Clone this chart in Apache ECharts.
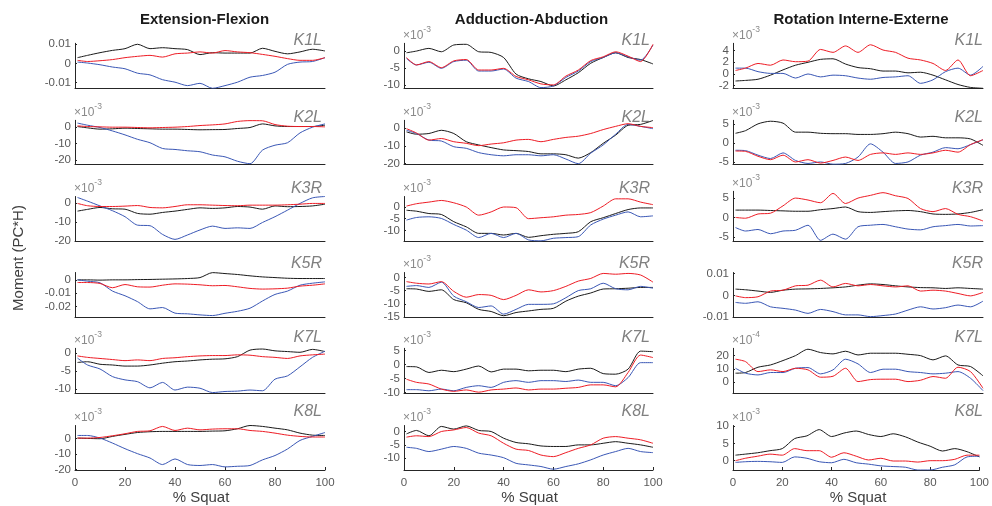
<!DOCTYPE html>
<html>
<head>
<meta charset="utf-8">
<script src="https://cdn.jsdelivr.net/npm/echarts@6/dist/echarts.min.js"></script>
<style>
html,body{margin:0;padding:0;background:#fff;}
#chart{width:992px;height:506px;}
</style>
</head>
<body>
<div id="chart"></div>
<script>
// ---------- DATA ----------
const xPct = [1,5,10,15,20,25,30,35,40,45,50,55,60,65,70,75,80,85,90,95,100];
const colTitles = ['Extension-Flexion','Adduction-Abduction','Rotation Interne-Externe'];
const rowLabels = ['K1L','K2L','K3R','K5R','K7L','K8L'];
const xTicks = [0,20,40,60,80,100];
const xAxisTitle = '% Squat';
const yAxisTitle = 'Moment (PC*H)';

// Extension-Flexion
const ef_K1L_black = [0.0030,0.0042,0.0056,0.0068,0.0077,0.0100,0.0077,0.0082,0.0077,0.0072,0.0046,0.0056,0.0054,0.0054,0.0054,0.0079,0.0063,0.0050,0.0060,0.0074,0.0065];
const ef_K1L_red   = [0.0016,0.0010,0.0014,0.0020,0.0030,0.0037,0.0042,0.0033,0.0050,0.0054,0.0060,0.0054,0.0067,0.0060,0.0056,0.0047,0.0037,0.0025,0.0016,0.0016,0.0030];
const ef_K1L_blue  = [0.0007,0.0002,-0.0007,-0.0019,-0.0028,-0.0051,-0.0060,-0.0085,-0.0098,-0.0116,-0.0104,-0.0130,-0.0116,-0.0098,-0.0072,-0.0063,-0.0046,-0.0005,0.0007,0.0010,0.0030];
const ef_K2L_black = [0.4,-0.4,-1.2,-1.0,-0.6,-0.8,-1.0,-1.2,-1.2,-1.4,-1.6,-1.5,-1.4,-0.8,-0.2,2.0,0.8,0.4,0.4,0.4,1.2];
const ef_K2L_red   = [0.8,0.4,0.2,0.0,0.0,-0.2,-0.4,-0.2,0.0,0.4,1.0,1.4,2.0,3.5,4.0,3.9,1.6,0.6,0.4,0.4,0.2];
const ef_K2L_blue  = [2.5,1.2,-0.2,-2.3,-4.7,-7.4,-9.5,-13.0,-13.6,-14.4,-15.0,-17.0,-18.1,-20.8,-22.3,-14.0,-11.0,-9.5,-3.5,0.0,2.0];
const ef_K3R_black = [-4.3,-3.4,-2.4,-3.1,-3.3,-5.5,-5.9,-5.0,-4.3,-3.4,-2.6,-2.9,-2.6,-1.9,-2.2,-3.3,-1.6,-2.0,-1.9,-1.6,-0.7];
const ef_K3R_red   = [-0.3,-1.5,-1.9,-1.9,-1.7,-1.4,-2.4,-2.6,-1.9,-1.0,-1.0,-1.2,-1.4,-1.5,-1.2,-1.2,-1.2,-1.0,-0.7,-0.3,-0.3];
const ef_K3R_blue  = [2.8,0.9,-1.6,-4.1,-7.2,-11.6,-11.9,-16.4,-19.0,-16.7,-14.1,-12.1,-13.3,-13.0,-13.3,-10.2,-7.2,-3.8,-0.3,2.6,3.3];
const ef_K5R_black = [0.0000,0.0000,-0.0002,0.0000,0.0000,0.0002,0.0003,0.0005,0.0007,0.0010,0.0017,0.0054,0.0047,0.0040,0.0030,0.0022,0.0017,0.0012,0.0010,0.0010,0.0010];
const ef_K5R_red   = [-0.0020,-0.0020,-0.0027,-0.0059,-0.0035,-0.0052,-0.0054,-0.0040,-0.0030,-0.0032,-0.0037,-0.0044,-0.0042,-0.0052,-0.0064,-0.0069,-0.0067,-0.0062,-0.0047,-0.0040,-0.0030];
const ef_K5R_blue  = [0.0000,-0.0010,-0.0022,-0.0084,-0.0119,-0.0163,-0.0217,-0.0207,-0.0249,-0.0254,-0.0262,-0.0267,-0.0250,-0.0235,-0.0212,-0.0158,-0.0109,-0.0084,-0.0040,-0.0025,-0.0015];
const ef_K7L_black = [-2.6,-2.4,-3.1,-3.3,-3.6,-3.6,-3.3,-2.8,-2.4,-2.2,-1.9,-1.7,-1.6,-1.0,0.8,1.1,0.6,0.4,0.2,1.0,0.4];
const ef_K7L_red   = [-0.8,-1.2,-1.5,-1.8,-2.1,-1.9,-2.1,-1.5,-1.3,-1.0,-0.8,-0.7,-0.7,-0.5,-0.6,-1.0,-1.2,-1.5,-0.8,-0.5,-0.3];
const ef_K7L_blue  = [-1.4,-3.3,-4.4,-6.5,-7.4,-7.9,-9.6,-8.1,-10.2,-9.4,-9.7,-10.9,-10.6,-10.5,-10.2,-10.4,-7.2,-6.3,-3.8,-1.2,0.5];
const ef_K8L_black = [0.2,0.0,-0.2,1.3,2.6,3.8,4.3,4.5,4.5,4.5,4.5,4.7,4.9,6.2,8.3,7.7,6.6,5.5,3.4,2.1,1.9];
const ef_K8L_red   = [0.2,0.2,0.6,1.7,3.0,4.5,4.9,7.7,5.1,6.6,5.5,6.0,6.2,6.2,5.1,4.5,3.4,2.1,1.3,0.9,0.9];
const ef_K8L_blue  = [1.9,1.9,0.2,-3.0,-6.6,-9.8,-12.6,-16.8,-13.2,-16.8,-17.4,-16.8,-18.3,-17.9,-17.4,-13.8,-11.0,-6.8,-1.3,1.3,3.8];

// Adduction-Abduction
const aa_K1L_black = [-0.5,0.0,0.8,-0.2,1.8,2.0,-0.2,-0.4,-1.9,-6.8,-8.2,-9.0,-10.3,-8.5,-6.4,-3.6,-1.9,-0.5,-1.9,-2.5,-3.8];
const aa_K1L_red   = [-1.9,-4.1,-3.1,-4.9,-2.9,-2.5,-5.6,-5.6,-5.1,-7.5,-8.5,-9.7,-10.0,-7.4,-5.6,-2.8,-1.7,-0.2,-1.5,-3.1,2.0];
const aa_K1L_blue  = [-2.2,-4.1,-3.3,-5.1,-3.1,-2.7,-5.9,-5.9,-5.3,-8.0,-9.0,-10.8,-10.3,-7.8,-5.9,-3.1,-1.9,-0.5,-1.7,-2.7,1.8];
const aa_K2L_black = [-2.2,-3.5,-3.1,-1.3,-3.1,-7.7,-9.5,-11.0,-12.3,-12.7,-13.2,-14.5,-14.5,-15.0,-16.9,-13.8,-8.6,-4.0,1.5,2.0,4.2];
const aa_K2L_red   = [-0.4,-2.8,-6.8,-5.9,-7.7,-8.6,-9.9,-9.0,-8.3,-6.8,-6.4,-7.7,-6.4,-5.3,-4.6,-3.1,-0.9,0.9,2.4,0.9,0.2];
const aa_K2L_blue  = [-1.3,-3.1,-6.8,-7.3,-10.5,-11.4,-13.8,-15.0,-15.6,-15.0,-15.0,-15.6,-15.0,-17.4,-20.0,-14.1,-9.5,-3.5,2.0,0.9,-0.4];
const aa_K3R_black = [-1.4,-1.8,-2.8,-3.2,-6.3,-8.5,-11.3,-11.3,-12.0,-11.3,-13.0,-12.3,-11.7,-11.3,-10.6,-6.3,-4.6,-2.8,-1.1,-0.4,-0.4];
const aa_K3R_red   = [0.4,1.4,2.1,2.8,1.8,0.0,-3.5,-2.1,0.0,-0.3,-5.0,-4.6,-4.2,-3.5,-3.2,-2.4,0.4,3.5,3.5,2.1,1.0];
const aa_K3R_blue  = [-5.6,-4.5,-4.2,-4.9,-7.5,-9.9,-13.1,-11.3,-13.1,-11.3,-14.1,-14.5,-13.4,-13.1,-12.7,-7.7,-5.2,-3.5,-2.1,-4.2,-3.8];
const aa_K5R_black = [-4.3,-4.4,-5.3,-4.7,-8.4,-9.6,-12.1,-12.9,-14.5,-13.3,-12.7,-12.1,-11.7,-9.0,-7.1,-5.9,-4.4,-4.3,-4.1,-3.8,-3.8];
const aa_K5R_red   = [-1.6,-2.2,-2.5,-1.6,-5.3,-7.5,-6.5,-6.8,-8.4,-6.8,-4.7,-5.5,-5.0,-3.4,-1.4,-0.4,1.5,1.2,1.5,0.9,-1.8];
const aa_K5R_blue  = [-3.4,-3.1,-3.8,-1.8,-7.1,-9.2,-11.4,-10.8,-13.9,-12.1,-10.2,-10.2,-10.0,-7.7,-5.0,-4.3,-2.2,-4.3,-4.7,-3.4,-4.1];
const aa_K7L_black = [-0.7,-0.8,-2.8,-2.0,-2.5,-1.6,-0.5,-2.6,-1.6,-1.6,-2.2,-2.0,-2.0,-2.5,-1.6,-1.3,-3.2,-3.4,-1.6,4.8,4.6];
const aa_K7L_red   = [-5.2,-6.3,-6.9,-8.7,-9.5,-9.0,-9.8,-9.0,-8.7,-8.3,-9.0,-8.7,-8.7,-8.4,-8.1,-7.2,-7.2,-7.9,-2.8,3.4,2.5];
const aa_K7L_blue  = [-8.9,-8.9,-9.3,-8.7,-9.3,-8.1,-7.5,-8.1,-6.3,-5.7,-6.3,-5.7,-5.7,-6.0,-5.5,-6.3,-6.3,-7.5,-4.6,0.7,0.7];
const aa_K8L_black = [-0.9,0.4,-1.6,1.9,0.9,2.1,0.4,0.0,-2.5,-4.1,-4.6,-5.4,-5.6,-5.6,-5.0,-5.0,-4.4,-3.8,-4.4,-5.0,-5.9];
const aa_K8L_red   = [-2.1,-1.6,-1.9,0.0,0.6,1.5,-0.6,-1.6,-4.4,-6.6,-7.1,-8.8,-9.4,-7.9,-6.3,-5.0,-2.5,-1.9,-2.5,-3.1,-4.4];
const aa_K8L_blue  = [-5.9,-6.3,-7.5,-6.6,-5.6,-6.3,-8.1,-8.8,-9.8,-11.9,-12.5,-13.1,-14.1,-13.1,-12.1,-10.6,-8.8,-7.5,-6.3,-7.5,-7.9];

// Rotation Interne-Externe
const ri_K1L_black = [-1.2,-1.1,-0.9,-0.2,0.7,1.5,2.0,2.5,2.6,1.7,1.1,0.9,0.5,0.5,0.2,0.3,-0.2,-1.0,-1.8,-2.3,-2.45];
const ri_K1L_red   = [0.6,1.0,1.8,1.5,2.4,2.1,2.2,4.2,3.7,4.8,3.7,5.0,4.1,3.7,2.7,2.4,1.8,0.6,2.4,-0.3,0.6];
const ri_K1L_blue  = [1.0,1.0,0.4,0.1,0.1,-0.7,0.0,-0.5,-0.2,-0.3,-0.7,-0.9,-0.6,-0.5,-0.3,-1.6,-1.0,0.4,1.0,-0.2,1.3];
const ri_K2L_black = [2.6,3.3,5.1,5.8,5.3,2.9,2.9,2.6,2.5,2.5,2.3,2.3,2.5,2.9,2.5,1.6,1.8,1.4,1.4,1.1,-0.6];
const ri_K2L_red   = [-2.1,-2.2,-3.5,-4.4,-3.2,-5.0,-4.4,-5.3,-4.6,-3.7,-4.6,-3.0,-2.6,-3.0,-2.6,-3.0,-2.6,-1.9,-2.4,-0.4,0.9];
const ri_K2L_blue  = [-1.9,-2.0,-3.2,-4.1,-2.6,-4.6,-5.4,-5.0,-5.6,-5.4,-3.7,-0.2,-2.4,-5.4,-5.0,-3.2,-2.4,-1.2,-1.5,-0.4,0.9];
const ri_K3R_black = [1.9,1.9,1.9,1.8,1.7,1.6,1.6,2.0,2.3,2.7,1.5,1.3,1.5,1.7,1.8,1.5,0.9,0.8,0.9,1.3,2.0];
const ri_K3R_red   = [0.0,-0.2,0.9,1.1,3.0,5.0,4.5,3.8,6.2,3.6,5.0,5.7,6.4,5.6,4.9,2.3,1.5,2.3,0.8,0.2,-0.9];
const ri_K3R_blue  = [-2.6,-3.5,-3.1,-4.2,-3.5,-3.3,-2.0,-5.9,-4.3,-5.6,-2.4,-2.0,-1.8,-2.4,-3.0,-3.2,-2.4,-2.1,-1.8,-2.2,-2.1];
const ri_K5R_black = [0.0029,0.0026,0.0020,0.0014,0.0024,0.0029,0.0030,0.0032,0.0035,0.0039,0.0047,0.0053,0.0050,0.0044,0.0039,0.0036,0.0035,0.0032,0.0035,0.0032,0.0029];
const ri_K5R_red   = [-0.0002,-0.0010,-0.0006,0.0020,0.0024,0.0044,0.0047,0.0070,0.0039,0.0055,0.0044,0.0050,0.0044,0.0039,0.0044,0.0020,0.0024,0.0020,0.0009,-0.0002,0.0014];
const ri_K5R_blue  = [-0.0032,-0.0036,-0.0029,-0.0052,-0.0059,-0.0067,-0.0082,-0.0064,-0.0074,-0.0089,-0.0089,-0.0097,-0.0092,-0.0085,-0.0067,-0.0052,-0.0062,-0.0056,-0.0044,-0.0052,-0.0026];
const ri_K7L_black = [6.8,7.3,11.3,13.0,16.3,20.0,24.8,22.3,21.3,23.3,20.5,21.8,21.8,21.8,21.0,20.0,16.8,19.8,13.0,11.8,4.8];
const ri_K7L_red   = [17.3,15.5,8.0,9.3,8.0,10.5,9.3,3.8,4.5,10.5,0.5,2.0,2.3,2.3,0.5,1.5,4.3,3.0,11.3,8.0,-4.5];
const ri_K7L_blue  = [10.5,6.8,5.5,7.3,7.3,10.5,11.0,6.3,9.3,17.3,13.8,7.3,9.8,9.8,8.0,7.3,6.3,6.8,8.0,3.0,-6.3];
const ri_K8L_black = [1.6,1.9,2.3,2.9,3.5,6.4,7.2,9.0,7.0,8.0,8.6,7.6,7.0,7.8,6.9,5.4,4.2,2.8,3.5,2.6,1.1];
const ri_K8L_red   = [0.0,0.7,1.3,1.9,1.6,3.5,2.9,2.9,1.0,2.3,1.3,0.2,0.7,-0.1,-0.1,-0.4,0.0,0.0,0.4,1.6,1.6];
const ri_K8L_blue  = [-0.5,-0.3,-0.2,-0.3,-0.5,1.1,0.7,-0.3,-0.6,0.4,-0.6,-1.0,-1.5,-1.7,-1.9,-2.7,-2.7,-1.9,-1.2,1.1,1.3];

// y-axis limits and tick values per panel
const efYRange = [[-0.013,0.0105],[-22.6,4.2],[-20,3.3],[-0.028,0.0055],[-11.1,1.3],[-20.3,8.3]];
const aaYRange = [[-11,2.3],[-20.3,4.3],[-14.7,4.5],[-15.1,1.85],[-10.2,5.8],[-14.4,2.25]];
const riYRange = [[-2.45,5.25],[-5.6,6.05],[-6.15,6.75],[-0.01,0.0105],[-8.3,25.5],[-2.7,10.2]];
const efYTicks = [[-0.01,0,0.01],[-20,-10,0],[-20,-10,0],[-0.02,-0.01,0],[-10,-5,0],[-20,-10,0]];
const aaYTicks = [[-10,-5,0],[-20,-10,0],[-10,-5,0],[-15,-10,-5,0],[-10,-5,0,5],[-10,-5,0]];
const riYTicks = [[-2,0,2,4],[-5,0,5],[-5,0,5],[-0.01,0,0.01],[0,10,20],[0,5,10]];
const efExp = [null,'-3','-3',null,'-3','-3'];
const aaExp = ['-3','-3','-3','-3','-3','-3'];
const riExp = ['-3','-3','-3',null,'-4','-3'];

const columns = [
  {blacks:[ef_K1L_black,ef_K2L_black,ef_K3R_black,ef_K5R_black,ef_K7L_black,ef_K8L_black],
   reds:[ef_K1L_red,ef_K2L_red,ef_K3R_red,ef_K5R_red,ef_K7L_red,ef_K8L_red],
   blues:[ef_K1L_blue,ef_K2L_blue,ef_K3R_blue,ef_K5R_blue,ef_K7L_blue,ef_K8L_blue],
   range:efYRange, ticks:efYTicks, exp:efExp},
  {blacks:[aa_K1L_black,aa_K2L_black,aa_K3R_black,aa_K5R_black,aa_K7L_black,aa_K8L_black],
   reds:[aa_K1L_red,aa_K2L_red,aa_K3R_red,aa_K5R_red,aa_K7L_red,aa_K8L_red],
   blues:[aa_K1L_blue,aa_K2L_blue,aa_K3R_blue,aa_K5R_blue,aa_K7L_blue,aa_K8L_blue],
   range:aaYRange, ticks:aaYTicks, exp:aaExp},
  {blacks:[ri_K1L_black,ri_K2L_black,ri_K3R_black,ri_K5R_black,ri_K7L_black,ri_K8L_black],
   reds:[ri_K1L_red,ri_K2L_red,ri_K3R_red,ri_K5R_red,ri_K7L_red,ri_K8L_red],
   blues:[ri_K1L_blue,ri_K2L_blue,ri_K3R_blue,ri_K5R_blue,ri_K7L_blue,ri_K8L_blue],
   range:riYRange, ticks:riYTicks, exp:riExp}
];

// ---------- LAYOUT / STYLE ----------
const FONT = '"Liberation Sans", Arial, Helvetica, sans-serif';
const gridLeft = [75, 404, 733];
const gridWidth = [250, 249, 250];
const rowTop = [43.3, 120.3, 196.5, 272.5, 348.3, 425.5];
const rowBottom = [88.3, 164.2, 241.3, 317.3, 393.3, 470];
const labelY = [41, 118, 189, 264, 338, 412];
const labelRight = [322, 650, 983];
const titleX = [204.5, 531.5, 861];
const squatX = [201, 529.5, 858];
const COLORS = {black:'#1a1a1a', red:'#ee1c25', blue:'#3a57b5'};
const AXIS_COLOR = '#262626';
const TICK_COLOR = '#595959';
const TICK_FONT = '11.5px ' + FONT;

const grids = [], xAxes = [], yAxes = [], series = [], graphics = [];
const yLabelJobs = [];
let idx = 0;
columns.forEach((col, c) => {
  for (let r = 0; r < 6; r++) {
    let top = rowTop[r];
    if (c === 2 && r === 2) top = 191.3;
    grids.push({left: gridLeft[c], top: top, width: gridWidth[c], height: rowBottom[r] - top, containLabel: false});
    const isBottom = r === 5;
    xAxes.push({
      type: 'value', gridIndex: idx, min: 0, max: 100, interval: 20,
      axisLine: {show: true, onZero: false, lineStyle: {color: AXIS_COLOR, width: 1}},
      axisTick: {show: isBottom, inside: true, length: 3, lineStyle: {color: AXIS_COLOR}},
      axisLabel: {show: isBottom, color: TICK_COLOR, fontSize: 11.5, fontFamily: FONT, margin: 7,
                  customValues: xTicks},
      splitLine: {show: false}
    });
    const exp = col.exp[r];
    const yAxis = {
      type: 'value', gridIndex: idx, min: col.range[r][0], max: col.range[r][1],
      axisLine: {show: true, onZero: false, lineStyle: {color: AXIS_COLOR, width: 1}},
      axisTick: {show: true, inside: true, length: 2, lineStyle: {color: AXIS_COLOR}, customValues: col.ticks[r]},
      axisLabel: {show: false},
      splitLine: {show: false}
    };
    if (exp) {
      yAxis.name = '{a|×10}{b|' + exp + '}';
      yAxis.nameLocation = 'end';
      yAxis.nameGap = 2;
      yAxis.nameTextStyle = {
        align: 'left', verticalAlign: 'bottom', padding: [0,0,0,-1],
        rich: {
          a: {fontSize: 12, color: '#8a8a8a', fontFamily: FONT, lineHeight: 16, verticalAlign: 'bottom'},
          b: {fontSize: 8.5, color: '#8a8a8a', fontFamily: FONT, lineHeight: 16, verticalAlign: 'top'}
        }
      };
    }
    yAxes.push(yAxis);
    yLabelJobs.push({axisIndex: idx, ticks: col.ticks[r], x: gridLeft[c] - 4});
    [['black', col.blacks[r]], ['blue', col.blues[r]], ['red', col.reds[r]]].forEach(([name, arr]) => {
      series.push({
        type: 'line', name: name, xAxisIndex: idx, yAxisIndex: idx,
        data: xPct.map((x, i) => [x, arr[i]]),
        showSymbol: false, symbol: 'none', smooth: 0.25, clip: true,
        lineStyle: {color: COLORS[name], width: 1}, itemStyle: {color: COLORS[name]},
        emphasis: {disabled: true}, silent: true
      });
    });
    graphics.push({
      type: 'text', x: labelRight[c], y: labelY[r], silent: true,
      style: {text: rowLabels[r], fill: '#808080', font: 'italic 16px ' + FONT,
              textAlign: 'right', textVerticalAlign: 'middle'}
    });
    idx++;
  }
  graphics.push({
    type: 'text', x: titleX[c], y: 20, silent: true,
    style: {text: colTitles[c], fill: '#1a1a1a', font: 'bold 15px ' + FONT,
            textAlign: 'center', textVerticalAlign: 'middle'}
  });
  graphics.push({
    type: 'text', x: squatX[c], y: 498, silent: true,
    style: {text: xAxisTitle, fill: '#404040', font: '15px ' + FONT,
            textAlign: 'center', textVerticalAlign: 'middle'}
  });
});
graphics.push({
  type: 'text', x: 18.5, y: 258, rotation: Math.PI / 2, silent: true,
  style: {text: yAxisTitle, fill: '#404040', font: '15px ' + FONT,
          textAlign: 'center', textVerticalAlign: 'middle'}
});

const chart = echarts.init(document.getElementById('chart'), null, {renderer: 'canvas'});
chart.setOption({
  animation: false,
  backgroundColor: '#ffffff',
  grid: grids,
  xAxis: xAxes,
  yAxis: yAxes,
  series: series
});

// y tick labels placed through the axis scale (ECharts hides some crowded ones)
yLabelJobs.forEach(job => {
  job.ticks.forEach(v => {
    const py = chart.convertToPixel({yAxisIndex: job.axisIndex}, v);
    graphics.push({
      type: 'text', x: job.x, y: py, silent: true,
      style: {text: String(+Number(v).toPrecision(6)), fill: TICK_COLOR, font: TICK_FONT,
              textAlign: 'right', textVerticalAlign: 'middle'}
    });
  });
});
chart.setOption({graphic: {elements: graphics}});
</script>
</body>
</html>
